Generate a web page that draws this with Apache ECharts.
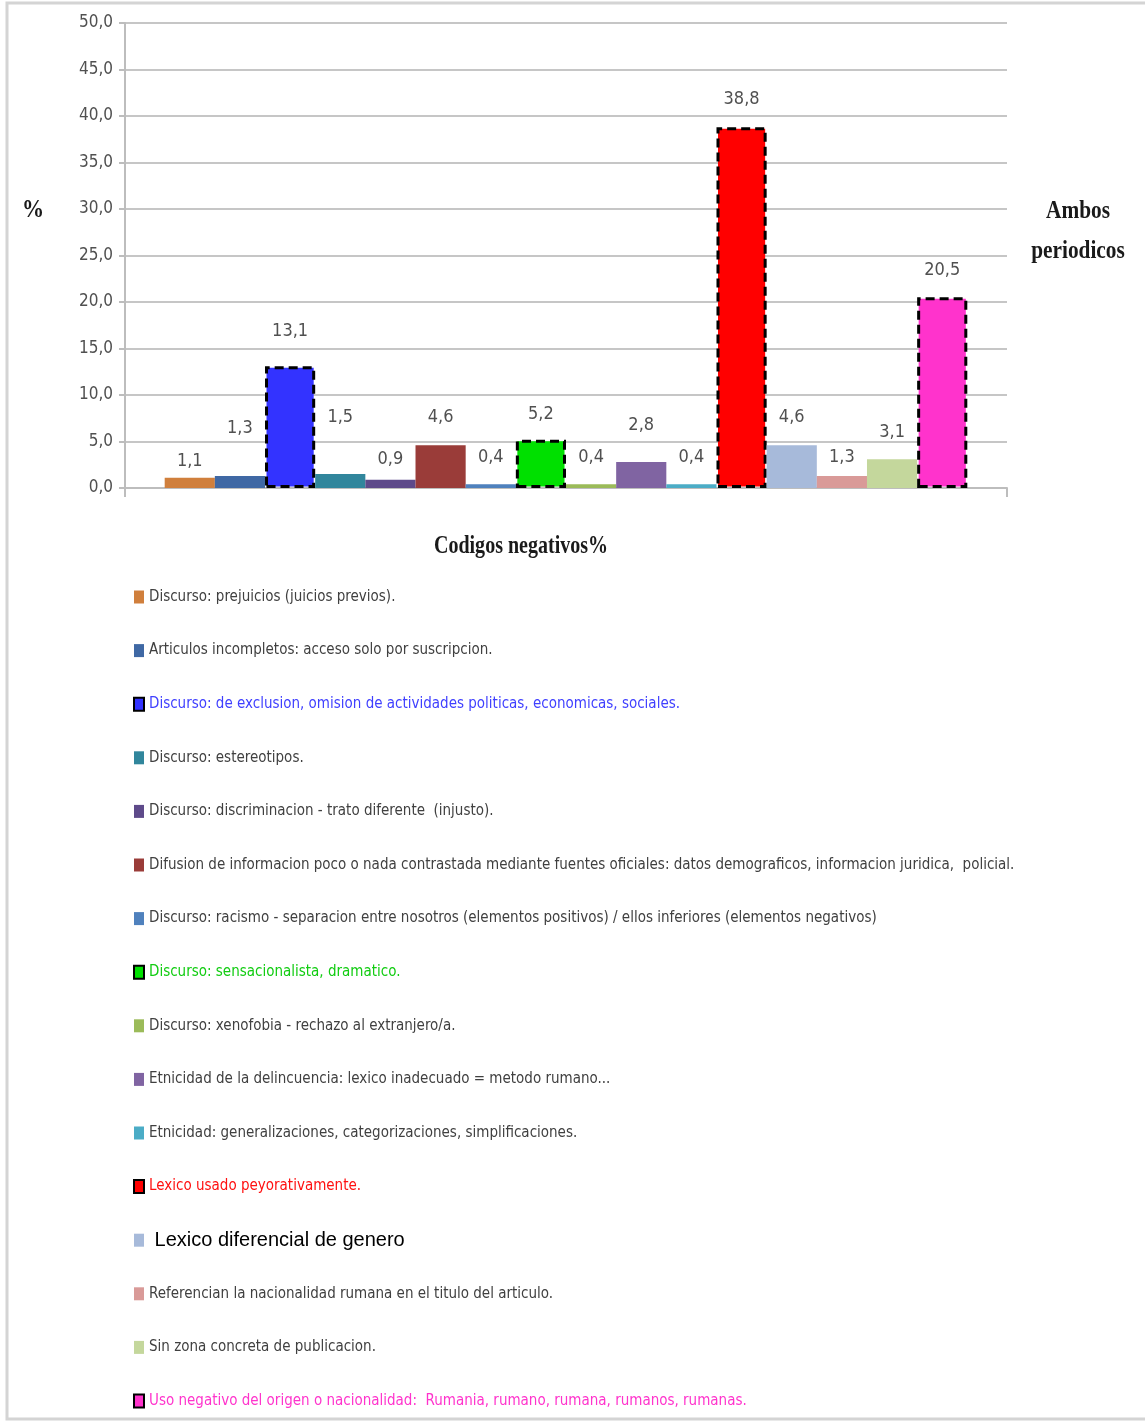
<!DOCTYPE html>
<html>
<head>
<meta charset="utf-8">
<script src="https://cdn.jsdelivr.net/npm/echarts@6/dist/echarts.min.js"></script>
<style>
  html, body { margin: 0; padding: 0; background: #ffffff; }
  #chart { width: 1145px; height: 1422px; }
</style>
</head>
<body>
<div id="chart"></div>
<script>
// Negative codes (%) found in both newspapers
const codeNames = [
  'Discurso: prejuicios (juicios previos).',
  'Articulos incompletos: acceso solo por suscripcion.',
  'Discurso: de exclusion, omision de actividades politicas, economicas, sociales.',
  'Discurso: estereotipos.',
  'Discurso: discriminacion - trato diferente  (injusto).',
  'Difusion de informacion poco o nada contrastada mediante fuentes oficiales: datos demograficos, informacion juridica,  policial.',
  'Discurso: racismo - separacion entre nosotros (elementos positivos) / ellos inferiores (elementos negativos)',
  'Discurso: sensacionalista, dramatico.',
  'Discurso: xenofobia - rechazo al extranjero/a.',
  'Etnicidad de la delincuencia: lexico inadecuado = metodo rumano...',
  'Etnicidad: generalizaciones, categorizaciones, simplificaciones.',
  'Lexico usado peyorativamente.',
  ' Lexico diferencial de genero',
  'Referencian la nacionalidad rumana en el titulo del articulo.',
  'Sin zona concreta de publicacion.',
  'Uso negativo del origen o nacionalidad:  Rumania, rumano, rumana, rumanos, rumanas.'
];
const codeValues = [1.1, 1.3, 13.1, 1.5, 0.9, 4.6, 0.4, 5.2, 0.4, 2.8, 0.4, 38.8, 4.6, 1.3, 3.1, 20.5];
const yTicks = { min: 0, max: 50, step: 5 };

// Styling
const barColors = ['#D07F3C', '#3F68A4', '#3333FF', '#31869C', '#5E4A8A', '#9A3C39', '#4F81BD', '#00E000',
                   '#9BBB59', '#8064A2', '#4BACC6', '#FF0000', '#A7BADA', '#D99A98', '#C4D79C', '#FF33CC'];
const highlighted = [false, false, true, false, false, false, false, true, false, false, false, true, false, false, false, true];
const legendTextColors = ['#404040', '#404040', '#3F3FFF', '#404040', '#404040', '#404040', '#404040', '#11CC11',
                          '#404040', '#404040', '#404040', '#FF1010', '#000000', '#404040', '#404040', '#FF33CC'];
const labelLift = [7, 39, 26, 48, 11, 19, 18, 16, 18, 28, 18, 19, 19, 10, 18, 18];

const narrow = '"Liberation Sans Narrow", "DejaVu Sans Condensed", "Roboto Condensed", sans-serif';
const serif = '"Liberation Serif", "DejaVu Serif", serif';
const comma = v => v.toFixed(1).replace('.', ',');

const series = codeNames.map((name, i) => ({
  name: name,
  type: 'bar',
  barGap: '0%',
  barCategoryGap: '9%',
  data: [codeValues[i]],
  itemStyle: highlighted[i]
    ? { color: barColors[i], borderColor: '#000000', borderWidth: 3, borderType: [9, 5] }
    : { color: barColors[i] },
  label: {
    show: true,
    position: 'top',
    distance: labelLift[i],
    formatter: p => comma(p.value),
    fontFamily: narrow,
    fontSize: 18,
    color: '#505050'
  },
  emphasis: { disabled: true }
}));

const legendData = codeNames.map((name, i) => {
  const item = { name: name, textStyle: { color: legendTextColors[i] } };
  if (highlighted[i]) item.itemStyle = { borderColor: '#000000', borderWidth: 2, borderType: 'solid' };
  if (i === 12) item.textStyle = { color: '#000000', fontFamily: '"Liberation Sans", sans-serif', fontSize: 20 };
  return item;
});

const chart = echarts.init(document.getElementById('chart'), null, { renderer: 'canvas' });
chart.setOption({
  animation: false,
  backgroundColor: '#ffffff',
  grid: { left: 125, right: 138, top: 23, bottom: 934, containLabel: false },
  xAxis: {
    type: 'category',
    data: [''],
    axisLine: { lineStyle: { color: '#BDBDBD', width: 2 } },
    axisTick: { show: true, length: 9, lineStyle: { color: '#BDBDBD', width: 2 } },
    axisLabel: { show: false }
  },
  yAxis: {
    type: 'value',
    min: yTicks.min,
    max: yTicks.max,
    interval: yTicks.step,
    axisLine: { show: true, lineStyle: { color: '#BDBDBD', width: 2 } },
    axisTick: { show: true, length: 6, lineStyle: { color: '#BDBDBD', width: 2 } },
    splitLine: { lineStyle: { color: '#C6C6C6', width: 2 } },
    axisLabel: { formatter: v => comma(v), fontFamily: narrow, fontSize: 17, color: '#505050', margin: 12 }
  },
  legend: {
    orient: 'vertical',
    left: 133,
    top: 586,
    padding: 0,
    itemWidth: 10,
    itemHeight: 13,
    itemGap: 31.6,
    icon: 'rect',
    selectedMode: false,
    data: legendData,
    textStyle: { fontFamily: narrow, fontSize: 15, lineHeight: 22, color: '#404040' }
  },
  graphic: [
    { type: 'rect', shape: { x: 7, y: 3, width: 1150, height: 1416 },
      style: { fill: 'none', stroke: '#D4D4D4', lineWidth: 3 }, silent: true },
    { type: 'text', x: 33, y: 210, scaleX: 0.85,
      style: { text: '%', font: 'bold 26px ' + serif, fill: '#1a1a1a', textAlign: 'center', textVerticalAlign: 'middle' } },
    { type: 'text', x: 1078, y: 231, scaleX: 0.82,
      style: { text: 'Ambos\nperiodicos', font: 'bold 26px ' + serif, lineHeight: 40, fill: '#1a1a1a', textAlign: 'center', textVerticalAlign: 'middle' } },
    { type: 'text', x: 521, y: 546, scaleX: 0.77,
      style: { text: 'Codigos negativos%', font: 'bold 26px ' + serif, fill: '#1a1a1a', textAlign: 'center', textVerticalAlign: 'middle' } }
  ],
  series: series
});
</script>
</body>
</html>
